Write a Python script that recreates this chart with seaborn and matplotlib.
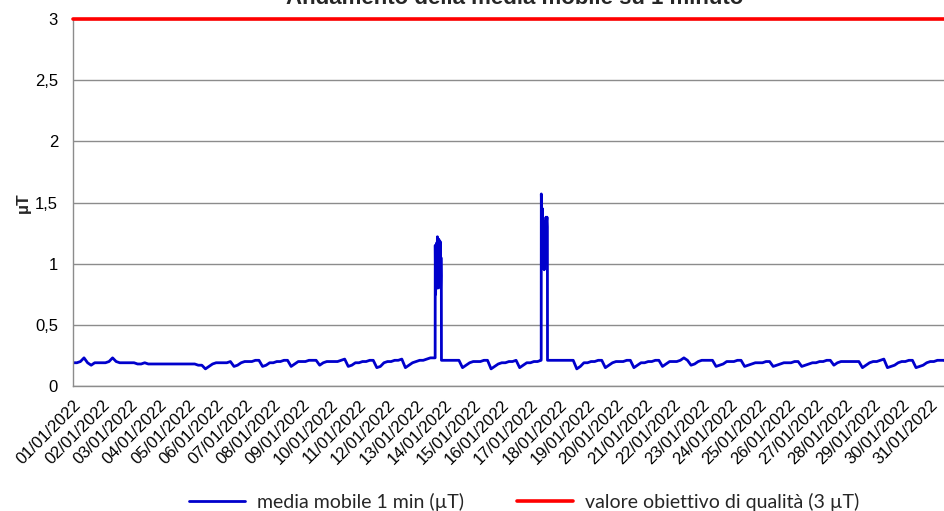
import matplotlib
matplotlib.use('Agg')
import matplotlib.pyplot as plt
import matplotlib.dates as mdates
import matplotlib.ticker as mticker
import numpy as np
import pandas as pd
import seaborn as sns

# Valori: campioni ogni 3 ore (0,3,...,21) per ciascun giorno di gennaio 2022
base_values = [
    0.19, 0.19, 0.20, 0.23, 0.19, 0.17, 0.19, 0.19,  # 01
    0.19, 0.19, 0.20, 0.23, 0.20, 0.19, 0.19, 0.19,  # 02
    0.19, 0.19, 0.18, 0.18, 0.19, 0.18, 0.18, 0.18,  # 03
    0.18, 0.18, 0.18, 0.18, 0.18, 0.18, 0.18, 0.18,  # 04
    0.18, 0.18, 0.18, 0.17, 0.17, 0.14, 0.16, 0.18,  # 05
    0.19, 0.19, 0.19, 0.19, 0.20, 0.16, 0.17, 0.19,  # 06
    0.20, 0.20, 0.20, 0.21, 0.21, 0.16, 0.17, 0.19,  # 07
    0.19, 0.20, 0.20, 0.21, 0.21, 0.16, 0.18, 0.20,  # 08
    0.20, 0.20, 0.21, 0.21, 0.21, 0.17, 0.19, 0.20,  # 09
    0.20, 0.20, 0.20, 0.21, 0.22, 0.16, 0.17, 0.19,  # 10
    0.19, 0.20, 0.20, 0.21, 0.21, 0.15, 0.16, 0.19,  # 11
    0.20, 0.20, 0.21, 0.21, 0.22, 0.15, 0.17, 0.19,  # 12
    0.20, 0.21, 0.21, 0.22, 0.23, 0.23, 0.21, 0.21,  # 13
    0.21, 0.21, 0.21, 0.21, 0.21, 0.15, 0.17, 0.19,  # 14
    0.20, 0.20, 0.20, 0.21, 0.21, 0.14, 0.16, 0.18,  # 15
    0.19, 0.19, 0.20, 0.20, 0.21, 0.15, 0.17, 0.19,  # 16
    0.19, 0.20, 0.20, 0.21, 0.21, 0.21, 0.21, 0.21,  # 17
    0.21, 0.21, 0.21, 0.21, 0.21, 0.14, 0.16, 0.19,  # 18
    0.19, 0.20, 0.20, 0.21, 0.21, 0.15, 0.17, 0.19,  # 19
    0.20, 0.20, 0.20, 0.21, 0.21, 0.15, 0.17, 0.19,  # 20
    0.19, 0.20, 0.20, 0.21, 0.21, 0.16, 0.18, 0.20,  # 21
    0.20, 0.20, 0.21, 0.23, 0.21, 0.17, 0.18, 0.20,  # 22
    0.21, 0.21, 0.21, 0.21, 0.16, 0.17, 0.18, 0.20,  # 23
    0.20, 0.20, 0.21, 0.21, 0.16, 0.17, 0.18, 0.19,  # 24
    0.19, 0.19, 0.20, 0.20, 0.16, 0.17, 0.18, 0.19,  # 25
    0.19, 0.19, 0.20, 0.20, 0.16, 0.17, 0.18, 0.19,  # 26
    0.19, 0.20, 0.20, 0.21, 0.21, 0.17, 0.19, 0.20,  # 27
    0.20, 0.20, 0.20, 0.20, 0.20, 0.15, 0.17, 0.19,  # 28
    0.20, 0.20, 0.21, 0.22, 0.15, 0.16, 0.17, 0.19,  # 29
    0.20, 0.20, 0.21, 0.21, 0.15, 0.16, 0.17, 0.19,  # 30
    0.20, 0.20, 0.21, 0.21, 0.21, 0.17, 0.19, 0.20,  # 31
]

# picco del 13/01 (ore del giorno, valori)
spike1_day = '2022-01-13'
spike1_hours = [16.0, 16.1, 16.4, 16.7, 17.0, 17.3, 17.6, 17.9, 18.2, 18.5,
                18.8, 19.1, 19.4, 19.7, 20.0, 20.3, 20.6, 20.9, 21.2, 21.3]
spike1_values = [0.23, 1.15, 0.75, 1.05, 0.85, 1.17, 0.95, 1.22, 0.80, 1.10,
                 0.90, 1.20, 0.85, 1.15, 0.95, 1.18, 0.80, 1.05, 0.90, 0.21]

# picco del 17/01
spike2_day = '2022-01-17'
spike2_hours = [9.1, 9.2, 9.5, 9.8, 10.1, 10.4, 10.7, 11.0, 11.3, 11.6,
                11.9, 12.2, 12.5, 12.8, 13.1, 13.4, 13.7, 14.0, 14.3, 14.4]
spike2_values = [0.22, 1.57, 1.42, 1.30, 1.45, 1.20, 1.35, 1.10, 1.28, 0.95,
                 1.25, 1.05, 1.30, 1.15, 1.38, 1.00, 1.35, 1.38, 1.30, 0.21]

target_value = 3
series_label = 'media mobile 1 min (µT)'
target_label = 'valore obiettivo di qualità (3 µT)'
title = 'Andamento della media mobile su 1 minuto'

# costruzione serie temporale
start = pd.Timestamp('2022-01-01')
base = pd.DataFrame({
    'time': start + pd.to_timedelta(np.arange(len(base_values)) * 3, unit='h'),
    'value': base_values,
})
spikes = []
for day, hours, vals in [(spike1_day, spike1_hours, spike1_values),
                         (spike2_day, spike2_hours, spike2_values)]:
    t = pd.Timestamp(day) + pd.to_timedelta(hours, unit='h')
    base = base[(base['time'] < t.min()) | (base['time'] > t.max())]
    spikes.append(pd.DataFrame({'time': t, 'value': vals}))
df = pd.concat([base] + spikes).sort_values('time').reset_index(drop=True)

sns.set_style('white')
plt.rcParams['font.family'] = ['Liberation Sans', 'DejaVu Sans']

fig = plt.figure(figsize=(9.44, 5.11), dpi=100)
ax = fig.add_axes([73.3 / 944, 1 - 386 / 511, 1 - 73.3 / 944, (386 - 19) / 511])

sns.lineplot(data=df, x='time', y='value', ax=ax, color='#0000CC',
             linewidth=2.0, label=series_label)
ax.axhline(target_value, color='#FF0000', linewidth=2.6, clip_on=False,
           label=target_label, zorder=5)

ax.set_ylim(0, 3)
ax.set_xlim(start, start + pd.Timedelta(days=30.48))

ax.yaxis.set_major_locator(mticker.MultipleLocator(0.5))
ax.yaxis.set_minor_locator(mticker.MultipleLocator(0.1))
ax.yaxis.set_major_formatter(mticker.FuncFormatter(lambda v, p: f'{v:g}'.replace('.', ',')))
ax.grid(axis='y', color='#8c8c8c', linewidth=1)
ax.set_axisbelow(True)

ax.xaxis.set_major_locator(mdates.DayLocator())
ax.xaxis.set_major_formatter(mdates.DateFormatter('%d/%m/%Y'))
for lab in ax.get_xticklabels():
    lab.set_rotation(45)
    lab.set_ha('right')
    lab.set_rotation_mode('anchor')

ax.tick_params(axis='both', which='both', direction='out', color='#8c8c8c',
               labelsize=12, labelcolor='black')
ax.tick_params(axis='both', which='major', length=5, width=1)
ax.tick_params(axis='y', which='minor', length=4, width=1)
ax.tick_params(axis='x', pad=3)
ax.tick_params(axis='y', pad=6)

for s in ['top', 'right']:
    ax.spines[s].set_visible(False)
for s in ['left', 'bottom']:
    ax.spines[s].set_color('#8c8c8c')
    ax.spines[s].set_linewidth(1)

ax.set_xlabel('')
ax.set_ylabel('µT', fontsize=12.5, fontweight='bold', labelpad=3)

fig.text(515 / 944, 1 - 4 / 511, title, ha='center', va='baseline',
         fontsize=16, fontweight='bold')

handles, labels = ax.get_legend_handles_labels()
ax.get_legend().remove()
fig.legend(handles, labels, loc='center', ncol=2, frameon=False,
           bbox_to_anchor=(524 / 944, 1 - 502 / 511),
           prop={'family': 'Lato', 'size': 14},
           handlelength=2.9, columnspacing=2.7, handletextpad=0.6)

fig.savefig('out.png', dpi=100)
